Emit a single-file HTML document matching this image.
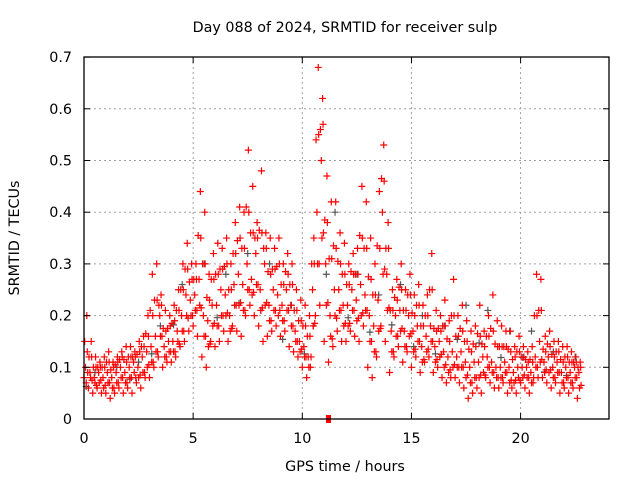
<!DOCTYPE html>
<html><head><meta charset="utf-8"><style>
html,body{margin:0;padding:0;background:#fff;}
svg{display:block;font-family:"DejaVu Sans","Liberation Sans",sans-serif;}
</style></head><body>
<svg id="chart" width="640" height="480" viewBox="0 0 640 480">
<rect x="0" y="0" width="640" height="480" fill="#fff"/>
<g id="grid"></g>
<g id="pts"></g>
<rect x="84" y="57" width="525" height="362" fill="none" stroke="#000" stroke-width="1.3"/>
<g id="ticks"></g>
<text x="345" y="32" font-size="14.3" text-anchor="middle">Day 088 of 2024, SRMTID for receiver sulp</text>
<text x="345" y="471" font-size="14.3" text-anchor="middle">GPS time / hours</text>
<text x="19" y="238" font-size="14.3" text-anchor="middle" transform="rotate(-90 19 238)">SRMTID / TECUs</text>
</svg>
<script>
// values in hundredths of TECU, sampled every 0.2 h from 0 h
const lowVals = [8,6,5,6,5, 5,4,5,6,5, 6,5,7,6,8, 8,10,12,10,11, 11,12,14,15,17, 18,16,12,10,15, 14,15,17,15,18, 17,16,20,22,20, 18,15,16,17,18, 16,17,14,13,12, 10,8,12,20,22, 15,11,14,17,15, 15,17,16,15,18, 10,8,12,18,15, 9,12,14,11,13, 10,12,9,11,12, 9,10,8,7,8, 8,7,6,4,5, 6,5,8,7,6, 6,7,5,6,5, 7,6,5,8,8, 8,7,6,7,5, 6,5,6,4];
const midVals = [10,9,8,9,8, 9,8,9,10,9, 10,11,10,12,13, 14,16,20,14,15, 15,17,20,24,23, 24,27,20,19,22, 22,25,24,20,26, 28,26,30,27,32, 25,30,22,25,24, 22,25,22,17,15, 14,12,25,40,50, 30,20,25,25,22, 22,25,23,26,24, 20,18,23,40,28, 17,20,21,17,20, 17,18,14,16,18, 14,15,13,12,13, 12,13,11,10,11, 11,12,12,11,10, 10,11,10,9,10, 10,10,9,12,15, 11,12,10,11,9, 10,9,10,9];
const highVals = [20,15,12,11,12, 13,11,12,13,14, 14,13,15,16,20, 28,30,24,21,20, 22,25,30,34,30, 30,44,40,28,32, 34,33,35,30,38, 41,40,52,45,38, 48,36,35,33,35, 30,32,30,25,23, 22,20,35,68,62, 47,42,42,36,34, 30,32,33,45,42, 35,30,44,53,38, 25,27,30,25,28, 24,26,22,24,32, 21,20,23,19,27, 20,22,19,17,18, 22,17,20,24,19, 18,17,17,14,16, 14,13,14,28,27, 16,17,15,15,14, 14,13,12,11];
const extraA = [7,8,7,7,6, 7,6,7,8,7, 8,9,8,9,10, 11,13,16,12,13, 13,15,17,20,20, 21,22,16,14,18, 18,20,20,17,22, 22,21,25,24,26, 21,22,19,21,20, 19,21,18,15,13, 12,10,18,30,35, 22,16,20,21,18, 18,21,19,20,21, 15,13,17,28,21, 13,16,17,14,16, 13,15,11,13,15, 11,12,10,9,10, 10,10,8,7,8, 8,9,10,9,8, 8,9,7,7,8, 8,8,7,10,11, 9,9,8,9,7, 8,7,8,6];
const extraB = [13,12,10,10,10, 11,10,11,12,11, 12,12,13,14,16, 20,23,22,17,18, 19,21,25,29,27, 27,35,30,23,27, 28,29,30,25,32, 35,33,40,36,35, 36,33,28,29,30, 26,28,26,21,19, 18,16,30,55,57, 38,31,33,30,28, 26,28,28,35,33, 27,24,33,46,33, 21,23,25,21,24, 20,22,18,20,25, 17,17,18,15,20, 16,17,15,13,14, 16,14,16,17,14, 14,14,13,12,13, 12,11,11,20,21, 13,14,12,13,11, 12,11,11,10];
const grayVals = [9,10,11,18,26, 30,28,32,30,22, 18,40,28,24,26, 20,18,22,21,17, 17,13,12];
const xTicks = [0,5,10,15,20];
const yTicks = [0,0.1,0.2,0.3,0.4,0.5,0.6,0.7];
const yTickLabels = ["0","0.1","0.2","0.3","0.4","0.5","0.6","0.7"];
const markerTime = 11.2;

const NS="http://www.w3.org/2000/svg";
const X0=84,PXH=21.83,Y0=419,PXU=517;
function xs(t){return X0+t*PXH;}
function ys(v){return Y0-v*PXU;}
function mk(tag,attrs,parent){const e=document.createElementNS(NS,tag);for(const k in attrs)e.setAttribute(k,attrs[k]);parent.appendChild(e);return e;}
const grid=document.getElementById('grid'),ticks=document.getElementById('ticks'),pts=document.getElementById('pts');

xTicks.forEach(t=>{
  const x=xs(t);
  if(t>0){const g=mk('line',{x1:x,y1:57,x2:x,y2:419,stroke:'#a0a0a0','stroke-dasharray':'2,3'},grid);
  
  }
  const a=mk('line',{x1:x,y1:419,x2:x,y2:413,stroke:'#000'},ticks);
  
  
  const b=mk('line',{x1:x,y1:57,x2:x,y2:63,stroke:'#000'},ticks);
  
  
  const l=mk('text',{x:x,y:443,'font-size':'14.3','text-anchor':'middle'},ticks);
  l.textContent=String(t);
  
  
});
yTicks.forEach((v,i)=>{
  const y=ys(v);
  if(v>0&&v<0.7){const g=mk('line',{x1:84,y1:y,x2:609,y2:y,stroke:'#a0a0a0','stroke-dasharray':'2,3'},grid);
  
  }
  const a=mk('line',{x1:84,y1:y,x2:90,y2:y,stroke:'#000'},ticks);
  
  
  const b=mk('line',{x1:609,y1:y,x2:603,y2:y,stroke:'#000'},ticks);
  
  
  const l=mk('text',{x:72,y:y+5,'font-size':'14.3','text-anchor':'end'},ticks);
  l.textContent=yTickLabels[i];
  
  
});
function plus(t,v,color,name){
  const x=xs(t),y=ys(v);
  const p=mk('path',{d:`M${x-3.5},${y}h7M${x},${y-3.5}v7`,stroke:color,'stroke-width':'1.2',fill:'none'},pts);
  
  
}
grayVals.forEach((v,i)=>{plus(i+0.5,v/100,'#555','gray-point');plus(i+0.1,(v*0.7)/100,'#555','gray-point');});
lowVals.forEach((v,i)=>plus(i*0.2,v/100,'#f00','low-point'));
midVals.forEach((v,i)=>plus(i*0.2+0.07,v/100,'#f00','mid-point'));
highVals.forEach((v,i)=>plus(i*0.2+0.13,v/100,'#f00','high-point'));
extraA.forEach((v,i)=>plus(i*0.2+0.1,v/100,'#f00','extra-a-point'));
extraB.forEach((v,i)=>plus(i*0.2+0.15,v/100,'#f00','extra-b-point'));
midVals.forEach((v,i)=>plus(i*0.2+0.17,(v+lowVals[i])/200,'#f00','mid-low-point'));
midVals.forEach((v,i)=>plus(i*0.2+0.03,(v+highVals[i])/200,'#f00','mid-high-point'));
const m=mk('rect',{x:xs(markerTime)-2.5,y:Y0-4,width:5,height:8,fill:'#f00'},pts);


</script>
</body></html>
